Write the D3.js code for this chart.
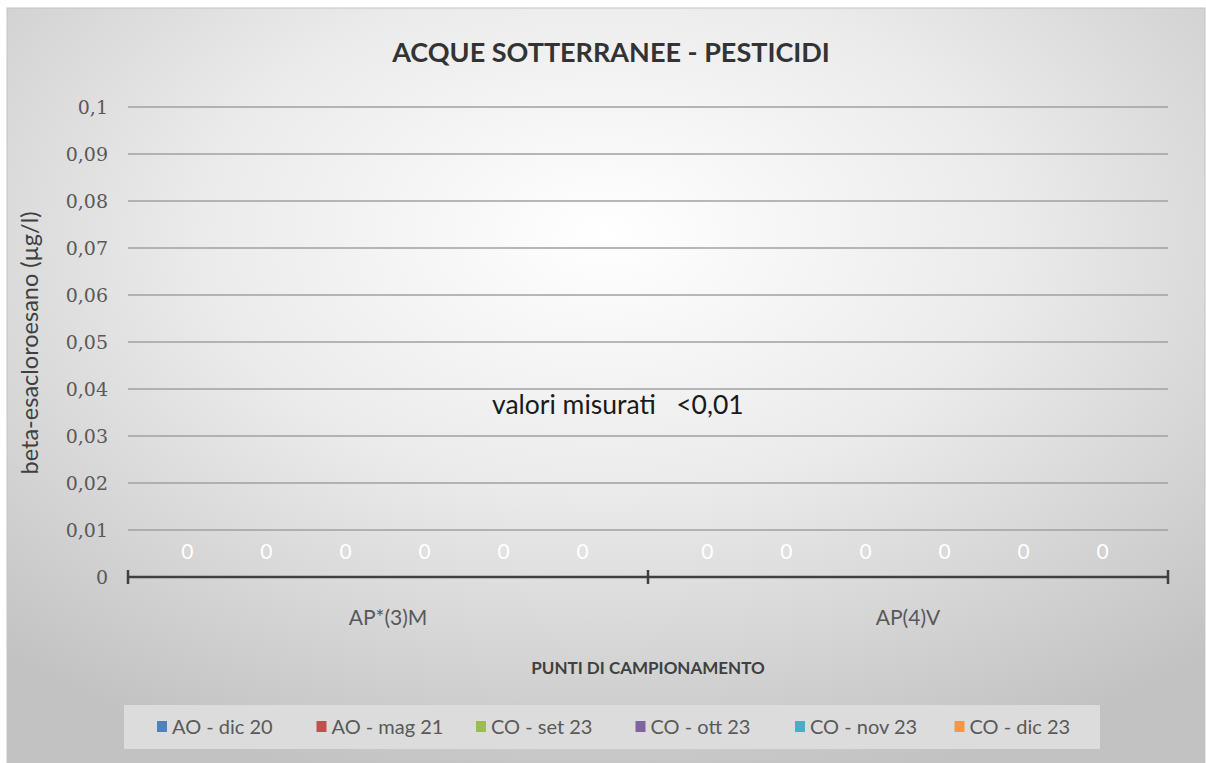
<!DOCTYPE html>
<html>
<head>
<meta charset="utf-8">
<script src="https://cdn.jsdelivr.net/npm/d3@7/dist/d3.min.js"></script>
<style>
  body { margin: 0; background: #fff; }
  svg { display: block; }
</style>
</head>
<body>
<div id="chart"></div>
<script>
const categories = ["AP*(3)M", "AP(4)V"];
const seriesNames = ["AO - dic 20", "AO - mag 21", "CO - set 23", "CO - ott 23", "CO - nov 23", "CO - dic 23"];
const seriesColors = ["#4F81BD", "#C0504D", "#9BBB59", "#8064A2", "#4BACC6", "#F79646"];
// one array per series, one value per category
const seriesValues = [
    [0, 0],
    [0, 0],
    [0, 0],
    [0, 0],
    [0, 0],
    [0, 0]
];
const yTicks = [0, 0.01, 0.02, 0.03, 0.04, 0.05, 0.06, 0.07, 0.08, 0.09, 0.1];

const width = 1206;
const height = 763;
const margin = { top: 107, right: 38, bottom: 186, left: 128 };

const svg = d3.select("#chart")
    .append("svg")
    .attr("width", width)
    .attr("height", height);

const defs = svg.append("defs");
const grad = defs.append("radialGradient")
    .attr("id", "bg")
    .attr("cx", "50%").attr("cy", "30%").attr("r", "75%");
grad.append("stop").attr("offset", "0%").attr("stop-color", "#ffffff");
grad.append("stop").attr("offset", "45%").attr("stop-color", "#ebebeb");
grad.append("stop").attr("offset", "100%").attr("stop-color", "#c2c2c2");

svg.append("rect")
    .attr("x", 7).attr("y", 8)
    .attr("width", width - 8).attr("height", height - 8)
    .attr("fill", "url(#bg)")
    .attr("stroke", "#c4c4c4");

const x0 = d3.scaleBand()
    .domain(categories)
    .range([margin.left, width - margin.right]);

const x1 = d3.scaleBand()
    .domain(seriesNames)
    .range([0, x0.bandwidth()])
    .paddingInner(0)
    .paddingOuter(0.29);

const y = d3.scaleLinear()
    .domain([0, 0.1])
    .range([height - margin.bottom, margin.top]);

// grid
svg.append("g")
    .selectAll("line")
    .data(yTicks.filter(d => d > 0))
    .enter()
    .append("line")
    .attr("x1", margin.left)
    .attr("x2", width - margin.right)
    .attr("y1", d => y(d))
    .attr("y2", d => y(d))
    .attr("stroke", "#a0a0a0")
    .attr("stroke-width", 1.6);

// y tick labels
svg.append("g")
    .selectAll("text")
    .data(yTicks)
    .enter()
    .append("text")
    .attr("x", 108)
    .attr("y", d => y(d))
    .attr("dy", "0.35em")
    .attr("text-anchor", "end")
    .style("font-family", "'DejaVu Serif', serif")
    .style("font-size", "19px")
    .style("fill", "#595959")
    .text(d => String(d).replace(".", ","));

// bars
const groups = svg.append("g")
    .selectAll("g")
    .data(categories)
    .enter()
    .append("g")
    .attr("transform", d => `translate(${x0(d)},0)`);

groups.selectAll("rect")
    .data((c, ci) => seriesNames.map((s, si) => ({ s, v: seriesValues[si][ci], color: seriesColors[si] })))
    .enter()
    .append("rect")
    .attr("x", d => x1(d.s))
    .attr("width", x1.bandwidth())
    .attr("y", d => y(d.v))
    .attr("height", d => y(0) - y(d.v))
    .attr("fill", d => d.color);

groups.selectAll("text")
    .data((c, ci) => seriesNames.map((s, si) => ({ s, v: seriesValues[si][ci] })))
    .enter()
    .append("text")
    .attr("x", d => x1(d.s) + x1.bandwidth() / 2 - 3)
    .attr("y", d => y(d.v) - 25)
    .attr("dy", "0.35em")
    .attr("text-anchor", "middle")
    .style("font-family", "Lato, sans-serif")
    .style("font-size", "21px")
    .style("fill", "#ffffff")
    .text(d => d.v);

// x axis
const xAxis = svg.append("g")
    .attr("transform", `translate(0,${y(0)})`);
xAxis.append("line")
    .attr("x1", margin.left).attr("x2", width - margin.right)
    .attr("stroke", "#404040").attr("stroke-width", 2.5);
const edges = [margin.left].concat(categories.map(c => x0(c) + x0.bandwidth()));
xAxis.selectAll(".tk")
    .data(edges)
    .enter()
    .append("line")
    .attr("class", "tk")
    .attr("x1", d => d).attr("x2", d => d)
    .attr("y1", -7).attr("y2", 7)
    .attr("stroke", "#404040").attr("stroke-width", 2.5);

svg.append("g")
    .selectAll("text")
    .data(categories)
    .enter()
    .append("text")
    .attr("x", d => x0(d) + x0.bandwidth() / 2)
    .attr("y", 618)
    .attr("dy", "0.35em")
    .attr("text-anchor", "middle")
    .style("font-family", "Lato, sans-serif")
    .style("font-size", "21px")
    .style("fill", "#595959")
    .text(d => d);

// titles
svg.append("text")
    .attr("x", 611).attr("y", 53)
    .attr("dy", "0.35em")
    .attr("text-anchor", "middle")
    .style("font-family", "Lato, sans-serif")
    .style("font-size", "27px")
    .style("font-weight", "bold")
    .style("fill", "#333333")
    .text("ACQUE SOTTERRANEE  - PESTICIDI");

svg.append("text")
    .attr("x", 648).attr("y", 668)
    .attr("dy", "0.35em")
    .attr("text-anchor", "middle")
    .style("font-family", "Lato, sans-serif")
    .style("font-size", "17px")
    .style("font-weight", "bold")
    .style("fill", "#404040")
    .text("PUNTI DI CAMPIONAMENTO");

svg.append("text")
    .attr("transform", "translate(30,343) rotate(-90)")
    .attr("dy", "0.35em")
    .attr("text-anchor", "middle")
    .style("font-family", "Lato, sans-serif")
    .style("font-size", "23.5px")
    .style("fill", "#404040")
    .text("beta-esacloroesano (µg/l)");

svg.append("text")
    .attr("x", 492).attr("y", 405)
    .attr("dy", "0.35em")
    .style("font-family", "Lato, sans-serif")
    .style("font-size", "26.5px")
    .style("fill", "#1a1a1a")
    .style("white-space", "pre")
    .text("valori misurati   <0,01");

// legend
const legend = svg.append("g");
legend.append("rect")
    .attr("x", 124).attr("y", 705)
    .attr("width", 976).attr("height", 44)
    .attr("fill", "#dcdcdc");

const items = legend.selectAll("g")
    .data(seriesNames)
    .enter()
    .append("g")
    .attr("transform", (d, i) => `translate(${157 + i * 159.5},727)`);

items.append("rect")
    .attr("x", 0).attr("y", -6)
    .attr("width", 10).attr("height", 11)
    .attr("fill", (d, i) => seriesColors[i]);

items.append("text")
    .attr("x", 15)
    .attr("dy", "0.35em")
    .style("font-family", "Lato, sans-serif")
    .style("font-size", "20px")
    .style("fill", "#595959")
    .text(d => d);
</script>
</body>
</html>
